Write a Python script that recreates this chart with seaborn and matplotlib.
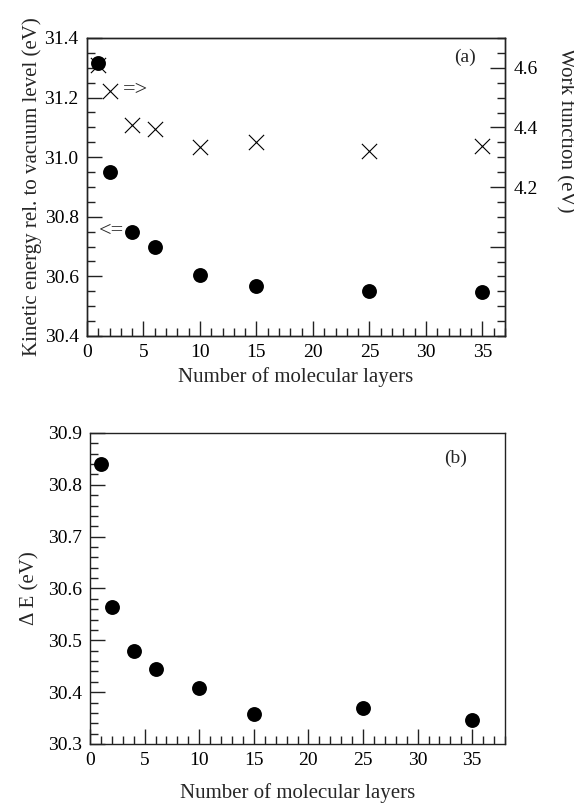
import pandas as pd
import matplotlib.pyplot as plt
import seaborn as sns
from matplotlib.ticker import MultipleLocator, FixedLocator

# data
layers = [1, 2, 4, 6, 10, 15, 25, 35]
kinetic_energy = [31.316, 30.95, 30.748, 30.70, 30.605, 30.568, 30.551, 30.547]
work_function = [4.61, 4.522, 4.408, 4.396, 4.333, 4.35, 4.32, 4.339]
delta_e = [30.841, 30.564, 30.479, 30.445, 30.409, 30.357, 30.369, 30.346]

sns.set_theme(style='ticks')
plt.rcParams['font.family'] = ['Liberation Serif', 'DejaVu Serif']

df = pd.DataFrame({'layers': layers, 'ke': kinetic_energy,
                   'wf': work_function, 'de': delta_e})

fig = plt.figure(figsize=(5.74, 8.07), dpi=100)
W, H = 574, 807
ax1 = fig.add_axes([87 / W, 1 - 336 / H, (505 - 87) / W, (336 - 38) / H])
ax2 = fig.add_axes([90 / W, 1 - 744 / H, (505 - 90) / W, (744 - 433) / H])


def style_axis(ax, **kw):
    for s in ax.spines.values():
        s.set_linewidth(1.0)
        s.set_color('#222222')
    ax.tick_params(which='both', direction='in', top=False,
                   labelsize=14, colors='#222222', labelcolor='black', pad=6, **kw)
    ax.tick_params(which='major', length=11, width=1)
    ax.tick_params(which='minor', length=5.5, width=1)


# ---- panel (a) ----
sns.scatterplot(data=df, x='layers', y='ke', ax=ax1, color='black', s=115,
                marker='o', edgecolor='black', linewidth=0, zorder=3)
ax1.set_xlim(0, 37)
ax1.set_ylim(30.4, 31.4)
ax1.xaxis.set_major_locator(MultipleLocator(5))
ax1.xaxis.set_minor_locator(MultipleLocator(1))
ax1.yaxis.set_major_locator(MultipleLocator(0.2))
ax1.yaxis.set_minor_locator(MultipleLocator(0.05))
ax1.yaxis.set_major_formatter(lambda v, p: f'{v:.1f}')
style_axis(ax1, right=False)
ax1.set_xlabel('Number of molecular layers', fontsize=15, labelpad=4)
ax1.set_ylabel('Kinetic energy rel. to vacuum level (eV)', fontsize=15, labelpad=2)

ax1r = ax1.twinx()
sns.scatterplot(data=df, x='layers', y='wf', ax=ax1r, color='black', s=120,
                marker='x', linewidth=0.8, zorder=2)
ax1r.set_ylim(3.7, 4.7)
ax1r.yaxis.set_major_locator(FixedLocator([4.0, 4.2, 4.4, 4.6]))
ax1r.yaxis.set_minor_locator(MultipleLocator(0.05))
ax1r.yaxis.set_major_formatter(lambda v, p: '' if abs(v - 4.0) < 1e-6 else f'{v:.1f}')
style_axis(ax1r, left=False, right=True)
ax1r.set_ylabel('Work function (eV)', fontsize=15, rotation=270)
ax1r.yaxis.label.set_va('center')
ax1r.yaxis.set_label_coords(1.145, 0.69)
ax1.set_zorder(ax1r.get_zorder() + 1)
ax1.patch.set_visible(False)

ax1.text(0.905, 0.935, '(a)', transform=ax1.transAxes, fontsize=14,
         ha='center', va='center')
ax1.text(3.2, 31.225, '=>', fontsize=16, ha='left', va='center')
ax1.text(3.3, 30.75, '<=', fontsize=16, ha='right', va='center')

# ---- panel (b) ----
sns.scatterplot(data=df, x='layers', y='de', ax=ax2, color='black', s=115,
                marker='o', edgecolor='black', linewidth=0, zorder=3)
ax2.set_xlim(0, 38)
ax2.set_ylim(30.3, 30.9)
ax2.xaxis.set_major_locator(MultipleLocator(5))
ax2.xaxis.set_minor_locator(MultipleLocator(1))
ax2.yaxis.set_major_locator(MultipleLocator(0.1))
ax2.yaxis.set_minor_locator(MultipleLocator(0.02))
ax2.yaxis.set_major_formatter(lambda v, p: f'{v:.1f}')
style_axis(ax2, right=False)
ax2.set_xlabel('Number of molecular layers', fontsize=15, labelpad=10)
ax2.set_ylabel('Δ E (eV)', fontsize=15, labelpad=6)
ax2.text(0.88, 0.92, '(b)', transform=ax2.transAxes, fontsize=14,
         ha='center', va='center')

fig.savefig('out.png', dpi=100, facecolor='white')
